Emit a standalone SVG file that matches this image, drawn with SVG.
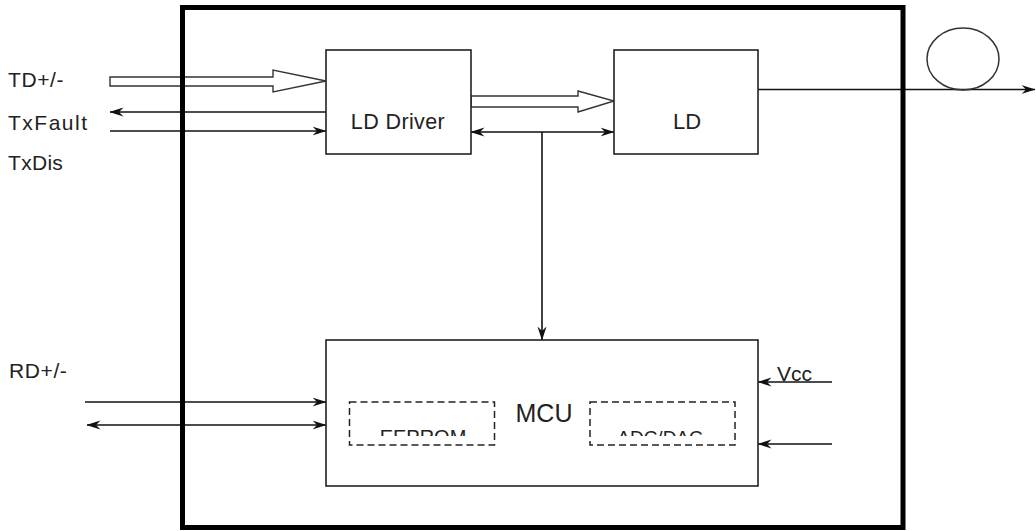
<svg xmlns="http://www.w3.org/2000/svg" width="1036" height="531" viewBox="0 0 1036 531">
<style>
.box{fill:#fff;stroke:#222;stroke-width:1.6}
.dash{fill:none;stroke:#222;stroke-width:1.5;stroke-dasharray:7 4}
.ln{fill:none;stroke:#111;stroke-width:1.6}
.hollow{fill:#fff;stroke:#333;stroke-width:1.4;stroke-linejoin:miter}
.t{font-family:"Liberation Sans",Arial,sans-serif;fill:#222}
</style>
<defs>
<marker id="ah" viewBox="0 0 14 10" refX="13.5" refY="5" markerWidth="14" markerHeight="10" markerUnits="userSpaceOnUse" orient="auto-start-reverse">
<path d="M0,0.5 L14,5 L0,9.5 L4.5,5 Z" fill="#111"/>
</marker>
<clipPath id="cutText"><rect x="340" y="400" width="400" height="36"/></clipPath>
</defs>
<rect width="1036" height="531" fill="#fff"/>

<g id="connectors">
<polygon class="hollow" points="110,77 273,77 273,70 326,81 273,92 273,86 110,86"/>
<line class="ln" x1="326" y1="112" x2="110" y2="112" marker-end="url(#ah)"/>
<line class="ln" x1="110" y1="131" x2="326" y2="131" marker-end="url(#ah)"/>
<polygon class="hollow" points="471,96 578,96 578,91 614,101 578,112 578,107 471,107"/>
<line class="ln" x1="471" y1="132" x2="614" y2="132" marker-start="url(#ah)" marker-end="url(#ah)"/>
<line class="ln" x1="542" y1="132" x2="542" y2="340" marker-end="url(#ah)"/>
<line class="ln" x1="758" y1="89.5" x2="1035" y2="89.5" marker-end="url(#ah)"/>
<line class="ln" x1="85" y1="402" x2="326" y2="402" marker-end="url(#ah)"/>
<line class="ln" x1="87" y1="425" x2="326" y2="425" marker-start="url(#ah)" marker-end="url(#ah)"/>
<line class="ln" x1="832" y1="382" x2="758" y2="382" marker-end="url(#ah)"/>
<line class="ln" x1="832" y1="444" x2="758" y2="444" marker-end="url(#ah)"/>
</g>

<g id="ld-driver">
<rect class="box" x="326" y="50" width="145" height="104"/>
<text class="t" x="398" y="129" font-size="21.5" letter-spacing="0.4" text-anchor="middle">LD Driver</text>
</g>

<g id="ld">
<rect class="box" x="614" y="50" width="144" height="104"/>
<text class="t" x="687" y="129" font-size="22" text-anchor="middle">LD</text>
</g>

<g id="mcu">
<rect class="box" x="326" y="340" width="432" height="146"/>
<text class="t" x="544" y="422" font-size="25" text-anchor="middle">MCU</text>
<g id="eeprom">
<rect class="dash" x="349.5" y="402" width="145" height="43"/>
<text class="t" x="423" y="444" font-size="20" text-anchor="middle" clip-path="url(#cutText)">EEPROM</text>
</g>
<g id="adc-dac">
<rect class="dash" x="590" y="402" width="145" height="43"/>
<text class="t" x="660" y="444" font-size="19" text-anchor="middle" clip-path="url(#cutText)">ADC/DAC</text>
</g>
</g>

<g id="fiber">
<ellipse cx="963" cy="59" rx="36" ry="31" fill="none" stroke="#333" stroke-width="1.5"/>
</g>

<g id="module">
<rect x="182.5" y="7.5" width="720.5" height="520" fill="none" stroke="#000" stroke-width="5"/>
</g>

<g id="labels">
<text class="t" x="8" y="87" font-size="21" letter-spacing="0.6">TD+/-</text>
<text class="t" x="8" y="130" font-size="21" letter-spacing="1.5">TxFault</text>
<text class="t" x="8" y="170" font-size="21" letter-spacing="0.3">TxDis</text>
<text class="t" x="9" y="378" font-size="21" letter-spacing="0.6">RD+/-</text>
<text class="t" x="777" y="381" font-size="21">Vcc</text>
</g>
</svg>
